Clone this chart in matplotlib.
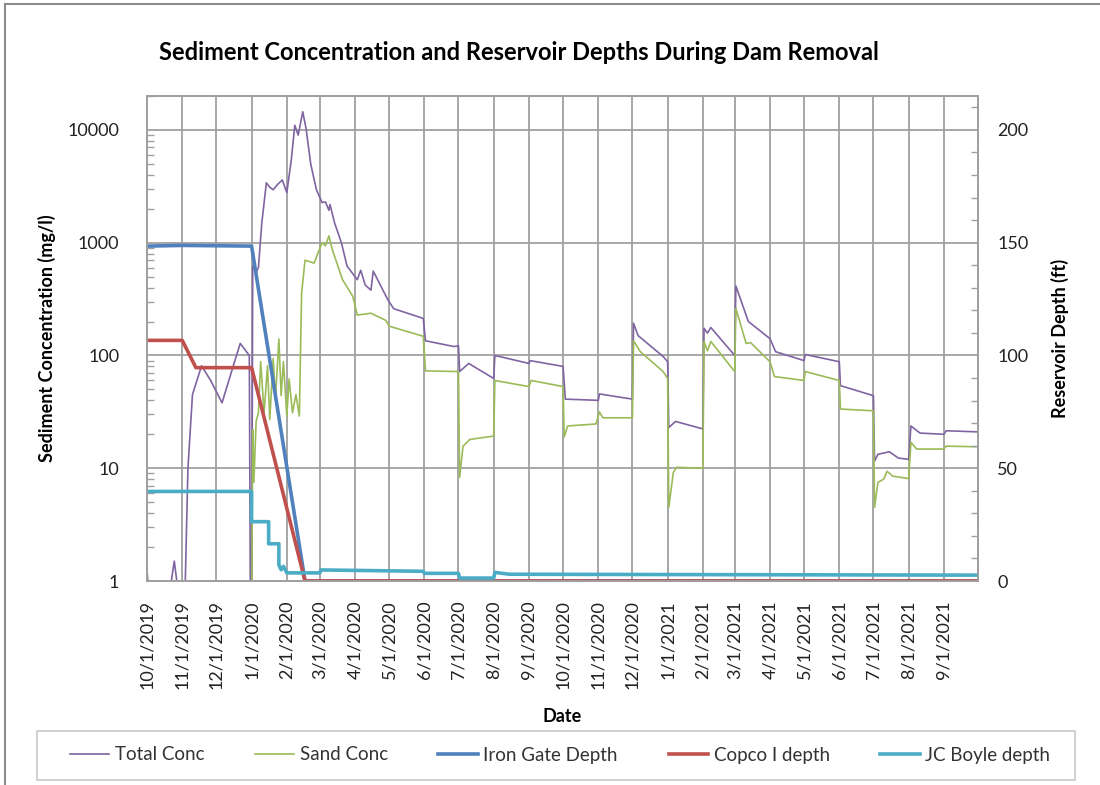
import numpy as np
import pandas as pd
import matplotlib
matplotlib.use("Agg")
import matplotlib.pyplot as plt
import matplotlib.dates as mdates
from matplotlib.ticker import FixedLocator, FuncFormatter, LogLocator, NullFormatter
from matplotlib.lines import Line2D
from matplotlib.patches import Rectangle

plt.rcParams['font.family'] = ['Lato', 'DejaVu Sans']

# Total suspended sediment concentration (mg/l)
total_dates = ['2019-10-01', '2019-10-04', '2019-10-18', '2019-10-25', '2019-10-31',
               '2019-11-03', '2019-11-06', '2019-11-10', '2019-11-18', '2019-11-26',
               '2019-12-06', '2019-12-14', '2019-12-22', '2019-12-30', '2019-12-31',
               '2020-01-01', '2020-01-02', '2020-01-05', '2020-01-07', '2020-01-10',
               '2020-01-14', '2020-01-17', '2020-01-20', '2020-01-24', '2020-01-28',
               '2020-02-01', '2020-02-05', '2020-02-08', '2020-02-11', '2020-02-15',
               '2020-02-18', '2020-02-22', '2020-02-27', '2020-03-03', '2020-03-06',
               '2020-03-09', '2020-03-10', '2020-03-14', '2020-03-20', '2020-03-25',
               '2020-04-03', '2020-04-06', '2020-04-10', '2020-04-15', '2020-04-17',
               '2020-04-30', '2020-05-05', '2020-05-31', '2020-06-02', '2020-06-27',
               '2020-07-01', '2020-07-02', '2020-07-10', '2020-08-01', '2020-08-02',
               '2020-09-01', '2020-09-02', '2020-10-01', '2020-10-03', '2020-11-01',
               '2020-11-02', '2020-12-01', '2020-12-02', '2020-12-06', '2020-12-28',
               '2021-01-01', '2021-01-02', '2021-01-08', '2021-02-01', '2021-02-02',
               '2021-02-05', '2021-02-08', '2021-03-01', '2021-03-02', '2021-03-13',
               '2021-04-01', '2021-04-06', '2021-05-01', '2021-05-02', '2021-06-01',
               '2021-06-02', '2021-07-01', '2021-07-02', '2021-07-05', '2021-07-15',
               '2021-07-23', '2021-08-01', '2021-08-03', '2021-08-11', '2021-09-01',
               '2021-09-03', '2021-10-01']
total_conc = [1.25, 0.5, 0.5, 1.5, 0.5,
              0.5, 10, 45, 81, 60,
              38, 70, 128, 100, 0.5,
              0.5, 620, 550, 600, 1500,
              3400, 3100, 2950, 3300, 3600,
              2780, 5500, 11000, 9000, 14500,
              10200, 5000, 2960, 2270, 2300,
              1940, 2180, 1500, 1000, 620,
              470, 570, 420, 380, 560,
              310, 260, 213, 135, 120,
              122, 72, 85, 62.5, 100,
              85, 90, 80, 41, 40,
              45.6, 41, 193, 150, 98,
              88, 23, 26, 22.3, 174,
              158, 177, 100, 414, 200,
              141, 108, 90, 102, 88,
              54, 44, 11.6, 13.3, 14,
              12.3, 12, 23.7, 20.5, 20,
              21.5, 21]

# Sand fraction concentration (mg/l)
sand_dates = ['2020-01-01', '2020-01-02', '2020-01-03', '2020-01-05', '2020-01-07',
              '2020-01-09', '2020-01-12', '2020-01-15', '2020-01-17', '2020-01-20',
              '2020-01-22', '2020-01-25', '2020-01-27', '2020-01-29', '2020-02-01',
              '2020-02-03', '2020-02-06', '2020-02-09', '2020-02-12', '2020-02-14',
              '2020-02-17', '2020-02-25', '2020-03-03', '2020-03-06', '2020-03-09',
              '2020-03-12', '2020-03-21', '2020-03-30', '2020-04-03', '2020-04-15',
              '2020-04-28', '2020-05-01', '2020-05-31', '2020-06-02', '2020-07-01',
              '2020-07-02', '2020-07-05', '2020-07-11', '2020-08-01', '2020-08-02',
              '2020-09-01', '2020-09-03', '2020-10-01', '2020-10-02', '2020-10-05',
              '2020-10-30', '2020-11-02', '2020-11-05', '2020-12-01', '2020-12-02',
              '2020-12-08', '2020-12-28', '2021-01-01', '2021-01-02', '2021-01-06',
              '2021-01-09', '2021-02-01', '2021-02-02', '2021-02-05', '2021-02-08',
              '2021-03-01', '2021-03-02', '2021-03-11', '2021-03-15', '2021-04-01',
              '2021-04-05', '2021-05-01', '2021-05-02', '2021-06-01', '2021-06-02',
              '2021-07-01', '2021-07-02', '2021-07-05', '2021-07-10', '2021-07-13',
              '2021-07-18', '2021-08-01', '2021-08-03', '2021-08-08', '2021-09-01',
              '2021-09-03', '2021-10-01']
sand_conc = [0.5, 22, 7.5, 26, 31,
             88, 31, 81, 27, 94,
             41, 140, 44, 88, 29,
             62, 31, 45, 29, 356,
             700, 660, 1000, 940, 1150,
             870, 470, 335, 228, 237,
             205, 182, 148, 73, 72,
             8.3, 15.7, 18, 19.3, 60,
             53, 60, 53, 18.9, 23.7,
             24.7, 31.6, 28, 28, 135,
             108, 72, 62.5, 4.5, 9.2,
             10.2, 10, 133, 110, 133,
             72, 262, 128, 130, 88,
             65, 60, 72, 60, 33.5,
             32.3, 4.5, 7.5, 8, 9.4,
             8.5, 8.1, 17, 14.8, 14.8,
             15.7, 15.5]

# Reservoir depths (ft)
iron_dates = ['2019-10-01', '2019-11-01', '2020-01-01', '2020-02-17', '2021-10-01']
iron_depth = [148.5, 148.8, 148.5, 0, 0]

copco_dates = ['2019-10-01', '2019-11-01', '2019-11-13', '2020-01-01', '2020-02-17', '2021-10-01']
copco_depth = [106.7, 106.7, 94.6, 94.6, 0, 0]

jcb_dates = ['2019-10-01', '2020-01-01', '2020-01-01', '2020-01-16', '2020-01-16',
             '2020-01-25', '2020-01-25', '2020-01-27', '2020-01-29', '2020-02-01',
             '2020-03-01', '2020-03-02', '2020-05-31', '2020-06-01', '2020-07-01',
             '2020-07-02', '2020-08-01', '2020-08-02', '2020-08-15', '2021-10-01']
jcb_depth = [39.7, 39.7, 26.3, 26.3, 16.5,
             16.5, 7.1, 5.0, 6.5, 3.6,
             3.6, 4.9, 4.3, 3.4, 3.4,
             1.3, 1.3, 3.8, 3.0, 2.6]

c_total = '#8064A2'
c_sand = '#9BBB59'
c_iron = '#4F81BD'
c_copco = '#C0504D'
c_jcb = '#4BACC6'
grid_c = '#a0a0a0'

fig = plt.figure(figsize=(11, 7.85), dpi=100)
ax = fig.add_axes([147 / 1100, 1 - 581 / 785, (978 - 147) / 1100, (581 - 96) / 785])
ax2 = ax.twinx()

ax.plot(pd.to_datetime(total_dates), total_conc, color=c_total, lw=1.2, label='Total Conc')
ax.plot(pd.to_datetime(sand_dates), sand_conc, color=c_sand, lw=1.2, label='Sand Conc')
ax2.plot(pd.to_datetime(iron_dates), iron_depth, color=c_iron, lw=2.6, label='Iron Gate Depth')
ax2.plot(pd.to_datetime(copco_dates), copco_depth, color=c_copco, lw=2.6, label='Copco I depth')
ax2.plot(pd.to_datetime(jcb_dates), jcb_depth, color=c_jcb, lw=2.6, label='JC Boyle depth')

# left axis: log concentration
ax.set_yscale('log')
top = 20000
ax.set_ylim(1, top)
ax.yaxis.set_major_locator(FixedLocator([1, 10, 100, 1000, 10000]))
ax.yaxis.set_major_formatter(FuncFormatter(lambda v, p: f"{int(round(v))}"))
ax.yaxis.set_minor_locator(LogLocator(base=10, subs=np.arange(2, 10)))
ax.yaxis.set_minor_formatter(NullFormatter())

# right axis scaled so 50 ft lines up with each decade
ax2.set_ylim(0, 50 * np.log10(top))
ax2.set_yticks([0, 50, 100, 150, 200])
ax2.set_yticks(np.arange(0, 211, 10), minor=True)

months = pd.date_range('2019-10-01', '2021-09-01', freq='MS')
ax.set_xlim(pd.Timestamp('2019-10-01'), pd.Timestamp('2021-10-01'))
ax.xaxis.set_major_locator(FixedLocator(mdates.date2num(months)))
ax.xaxis.set_major_formatter(FuncFormatter(
    lambda v, p: (lambda d: f"{d.month}/{d.day}/{d.year}")(mdates.num2date(v))))
for lab in ax.get_xticklabels():
    lab.set_rotation(90)

ax.grid(True, which='major', axis='both', color=grid_c, lw=1.3)
ax.axvline(pd.Timestamp('2021-10-01'), color=grid_c, lw=1.3)
ax.set_axisbelow(True)

ax.tick_params(axis='x', length=0, pad=14, labelsize=13, labelcolor='#222222')
ax.tick_params(axis='y', which='major', length=0, pad=20, labelsize=13, labelcolor='#222222')
ax.tick_params(axis='y', which='minor', length=5, direction='in', color=grid_c, width=1)
ax2.tick_params(axis='y', which='major', length=0, pad=14, labelsize=13, labelcolor='#222222')
ax2.tick_params(axis='y', which='minor', length=5, direction='in', color=grid_c, width=1)

for a in (ax, ax2):
    for s in a.spines.values():
        s.set_color(grid_c)
        s.set_linewidth(1.3)

ax.set_xlabel('Date', fontsize=13, fontweight='bold', labelpad=13)
ax.set_ylabel('Sediment Concentration (mg/l)', fontsize=13, fontweight='bold', labelpad=8)
ax2.set_ylabel('Reservoir Depth (ft)', fontsize=13, fontweight='bold', labelpad=16)

fig.text(519 / 1100, 1 - 53 / 785, 'Sediment Concentration and Reservoir Depths During Dam Removal',
         ha='center', va='center', fontsize=17, fontweight='bold')

# legend box along the bottom, entries centred inside it
fig.add_artist(Rectangle((37 / 1100, 1 - 780 / 785), (1075 - 37) / 1100, 49 / 785,
                         transform=fig.transFigure, facecolor='none',
                         edgecolor='#c8c8c8', lw=1.2))
h1, l1 = ax.get_legend_handles_labels()
h2, l2 = ax2.get_legend_handles_labels()
leg = fig.legend(h1 + h2, l1 + l2, loc='center', ncol=5,
                 bbox_to_anchor=(560 / 1100, 1 - 755 / 785),
                 fontsize=13.5, frameon=False, handlelength=2.1,
                 handletextpad=0.3, columnspacing=2.7, borderaxespad=0)
for t in leg.get_texts():
    t.set_color('#333333')

# chart area border
fig.add_artist(Line2D([5 / 1100, 5 / 1100], [0, 1 - 4 / 785], color='#8c8c8c', lw=1.5))
fig.add_artist(Line2D([5 / 1100, 1], [1 - 4 / 785, 1 - 4 / 785], color='#8c8c8c', lw=1.5))

fig.savefig('out.png', dpi=100)
